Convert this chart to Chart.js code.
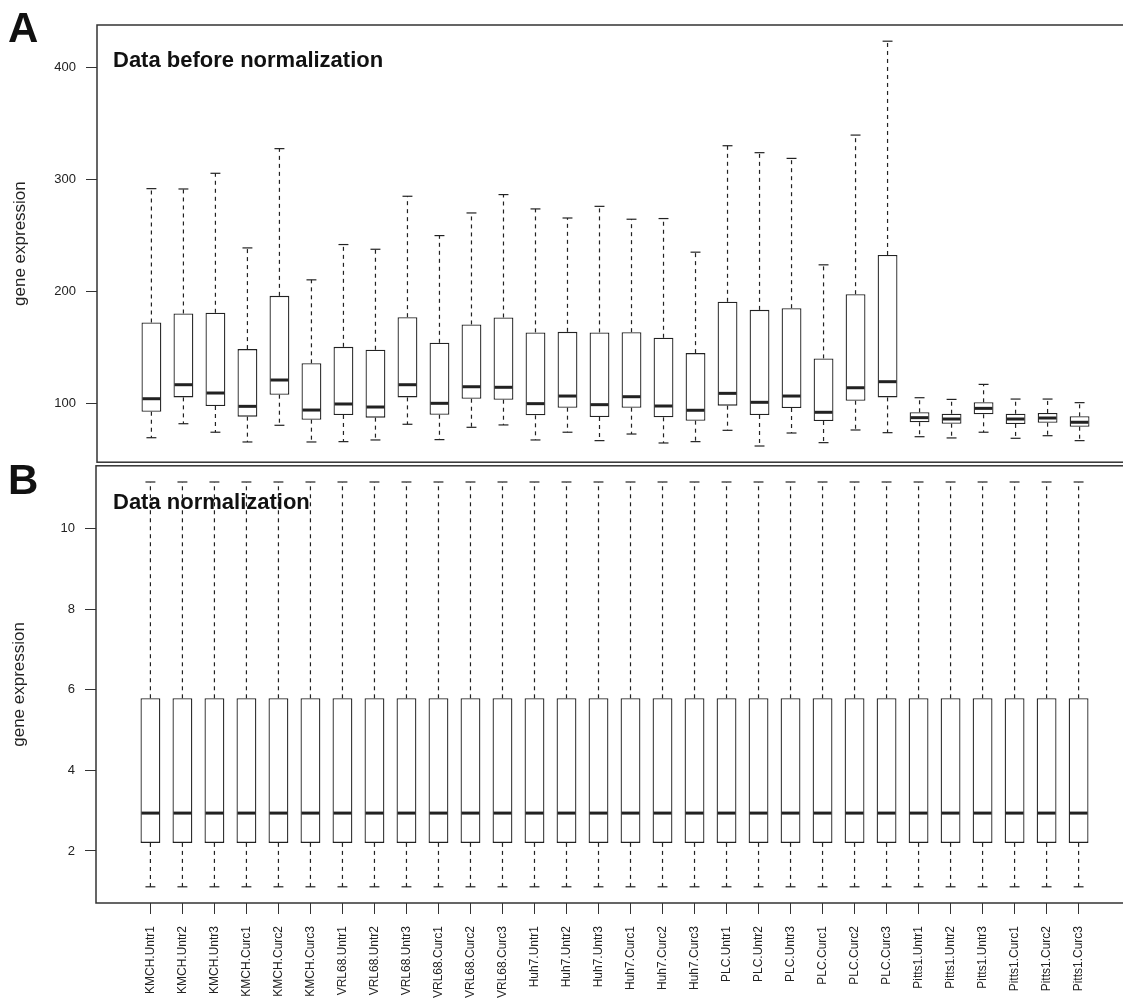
<!DOCTYPE html>
<html>
<head>
<meta charset="utf-8">
<script src="https://cdn.jsdelivr.net/npm/chart.js@4.4.1/dist/chart.umd.min.js"></script>
<style>
  html, body { margin: 0; padding: 0; background: #fff; overflow: hidden; }
  #wrap { position: relative; width: 1123px; height: 998px; overflow: hidden; }
  canvas { position: absolute; left: 0; }
  #chartA { top: 0; }
  #chartB { top: 448px; left: -1px; }
  .lbl { position: absolute; font-family: "Liberation Sans", Arial, sans-serif; font-weight: bold; color: #111; white-space: nowrap; }
  .panel { font-size: 42px; line-height: 1; }
  .ttl { font-size: 22px; line-height: 1; }
</style>
</head>
<body>
<div id="wrap">
  <canvas id="chartA" width="1140" height="480"></canvas>
  <canvas id="chartB" width="1140" height="557"></canvas>
  <div class="lbl panel" style="left:8px; top:7px;">A</div>
  <div class="lbl ttl" style="left:113px; top:49px;">Data before normalization</div>
  <div class="lbl panel" style="left:8px; top:459px;">B</div>
  <div class="lbl ttl" style="left:113px; top:491px;">Data normalization</div>
</div>
<script>
// sample names (x axis)
const samples = [
  "KMCH.Untr1", "KMCH.Untr2", "KMCH.Untr3", "KMCH.Curc1", "KMCH.Curc2", "KMCH.Curc3",
  "VRL68.Untr1", "VRL68.Untr2", "VRL68.Untr3", "VRL68.Curc1", "VRL68.Curc2", "VRL68.Curc3",
  "Huh7.Untr1", "Huh7.Untr2", "Huh7.Untr3", "Huh7.Curc1", "Huh7.Curc2", "Huh7.Curc3",
  "PLC.Untr1", "PLC.Untr2", "PLC.Untr3", "PLC.Curc1", "PLC.Curc2", "PLC.Curc3",
  "Pitts1.Untr1", "Pitts1.Untr2", "Pitts1.Untr3", "Pitts1.Curc1", "Pitts1.Curc2", "Pitts1.Curc3"
];

// A: data before normalization (whisker low, Q1, median, Q3, whisker high)
const lowA  = [69.3, 81.8, 74.2, 65.5, 80.4, 65.5, 65.8, 67.3, 81.3, 67.6, 78.6, 80.7, 67.3, 74.2, 66.7,
               72.6, 64.6, 65.8, 75.9, 61.9, 73.5, 64.9, 76.2, 73.8, 70.2, 69.1, 74.2, 68.8, 71.1, 66.7];
const q1A   = [92.5, 105.3, 97.6, 88.1, 107.7, 85.4, 89.6, 87.2, 105.3, 89.8, 104.1, 103.2, 89.3, 96.1, 87.8,
               96.1, 87.5, 84.5, 97.9, 89.6, 95.8, 84.2, 102.3, 105.3, 83.1, 81.8, 90.2, 81.6, 82.7, 79.1];
const medA  = [104.1, 116.6, 109.2, 97.3, 120.8, 94.0, 99.4, 96.7, 116.6, 100.0, 114.8, 114.3, 99.7, 106.5, 98.8,
               105.9, 97.6, 93.8, 108.9, 100.9, 106.5, 92.0, 113.9, 119.3, 87.2, 86.0, 95.5, 86.0, 86.9, 83.1];
const q3A   = [172.2, 180.2, 180.8, 148.4, 195.9, 135.7, 150.4, 147.8, 176.9, 154.0, 170.4, 176.6, 163.3, 163.8, 163.3,
               163.5, 158.5, 144.8, 190.6, 183.4, 184.9, 140.1, 197.4, 232.4, 92.0, 90.7, 100.9, 90.7, 91.4, 88.4];
const highA = [291.6, 291.3, 305.3, 238.7, 327.3, 210.2, 241.7, 237.5, 284.8, 249.7, 269.9, 286.3, 273.5, 265.4, 275.8,
               264.3, 264.9, 234.9, 329.9, 323.7, 318.6, 223.6, 339.4, 423.2, 105.0, 103.5, 116.9, 103.8, 103.8, 100.6];
const ticksA = [100, 200, 300, 400];

// B: data after normalization
const lowB  = [1.11, 1.11, 1.11, 1.11, 1.11, 1.11, 1.11, 1.11, 1.11, 1.11, 1.11, 1.11, 1.11, 1.11, 1.11,
               1.11, 1.11, 1.11, 1.11, 1.11, 1.11, 1.11, 1.11, 1.11, 1.11, 1.11, 1.11, 1.11, 1.11, 1.11];
const q1B   = [2.2, 2.2, 2.2, 2.2, 2.2, 2.2, 2.2, 2.2, 2.2, 2.2, 2.2, 2.2, 2.2, 2.2, 2.2,
               2.2, 2.2, 2.2, 2.2, 2.2, 2.2, 2.2, 2.2, 2.2, 2.2, 2.2, 2.2, 2.2, 2.2, 2.2];
const medB  = [2.94, 2.94, 2.94, 2.94, 2.94, 2.94, 2.94, 2.94, 2.94, 2.94, 2.94, 2.94, 2.94, 2.94, 2.94,
               2.94, 2.94, 2.94, 2.94, 2.94, 2.94, 2.94, 2.94, 2.94, 2.94, 2.94, 2.94, 2.94, 2.94, 2.94];
const q3B   = [5.79, 5.79, 5.79, 5.79, 5.79, 5.79, 5.79, 5.79, 5.79, 5.79, 5.79, 5.79, 5.79, 5.79, 5.79,
               5.79, 5.79, 5.79, 5.79, 5.79, 5.79, 5.79, 5.79, 5.79, 5.79, 5.79, 5.79, 5.79, 5.79, 5.79];
const highB = [11.16, 11.16, 11.16, 11.16, 11.16, 11.16, 11.16, 11.16, 11.16, 11.16, 11.16, 11.16, 11.16, 11.16, 11.16,
               11.16, 11.16, 11.16, 11.16, 11.16, 11.16, 11.16, 11.16, 11.16, 11.16, 11.16, 11.16, 11.16, 11.16, 11.16];
const ticksB = [2, 4, 6, 8, 10];

const FONT = "'Liberation Sans', Arial, Helvetica, sans-serif";
const INK = "#222";

// whiskers, staples and medians (R boxplot style)
const boxParts = {
  id: "boxParts",
  afterDatasetsDraw(chart) {
    const ctx = chart.ctx;
    const ys = chart.scales.y;
    const ds = chart.data.datasets[0];
    const bars = chart.getDatasetMeta(0).data;
    const line = (x1, y1, x2, y2) => { ctx.beginPath(); ctx.moveTo(x1, y1); ctx.lineTo(x2, y2); ctx.stroke(); };
    ctx.save();
    ctx.strokeStyle = INK;
    bars.forEach((bar, i) => {
      const x = bar.x, w = bar.width;
      const pLow = ys.getPixelForValue(ds.low[i]);
      const pHigh = ys.getPixelForValue(ds.high[i]);
      const pQ1 = ys.getPixelForValue(ds.data[i].y[0]);
      const pQ3 = ys.getPixelForValue(ds.data[i].y[1]);
      const pMed = ys.getPixelForValue(ds.med[i]);
      ctx.lineWidth = 1.2;
      ctx.setLineDash([4, 4]);
      line(x, pQ3, x, pHigh);
      line(x, pQ1, x, pLow);
      ctx.setLineDash([]);
      line(x - w / 4, pHigh, x + w / 4, pHigh);
      line(x - w / 4, pLow, x + w / 4, pLow);
      ctx.lineWidth = 3;
      line(x - w / 2 + 1, pMed, x + w / 2 - 1, pMed);
    });
    ctx.restore();
  }
};

// frame around the plot region
const frame = {
  id: "frame",
  afterDraw(chart) {
    const a = chart.chartArea, ctx = chart.ctx;
    ctx.save();
    ctx.strokeStyle = "#333";
    ctx.lineWidth = 1.5;
    ctx.strokeRect(a.left, a.top, a.right - a.left, a.bottom - a.top);
    ctx.restore();
  }
};

// R pads each axis by 4% of the data range
function padRange(lo, hi) {
  const d = (hi - lo) * 0.04;
  return [lo - d, hi + d];
}

function makeBox(id, low, q1, med, q3, high, yTicks, showX, pad) {
  const yr = padRange(Math.min(...low), Math.max(...high));
  const xr = padRange(0.5, samples.length + 0.5);
  return new Chart(document.getElementById(id), {
    type: "bar",
    data: {
      datasets: [{
        data: samples.map((s, i) => ({ x: i + 1, y: [q1[i], q3[i]] })),
        low: low, med: med, high: high,
        backgroundColor: "#fff",
        borderColor: INK,
        borderWidth: 1.3,
        borderSkipped: false,
        categoryPercentage: 1,
        barPercentage: 0.62
      }]
    },
    options: {
      responsive: false,
      devicePixelRatio: 1,
      animation: false,
      events: [],
      layout: { padding: pad },
      plugins: { legend: { display: false }, tooltip: { enabled: false } },
      scales: {
        x: {
          type: "linear",
          offset: false,
          min: xr[0], max: xr[1],
          display: showX,
          afterBuildTicks: s => { s.ticks = samples.map((n, i) => ({ value: i + 1 })); },
          afterFit: s => { s.height = showX ? 102 : 0; },
          ticks: {
            autoSkip: false, minRotation: 90, maxRotation: 90, padding: 12,
            color: INK, font: { family: FONT, size: 12 },
            callback: v => samples[v - 1]
          },
          grid: { offset: false, drawOnChartArea: false, drawTicks: true, tickLength: 11, color: "#333" },
          border: { display: false }
        },
        y: {
          min: yr[0], max: yr[1],
          afterBuildTicks: s => { s.ticks = yTicks.map(v => ({ value: v })); },
          afterFit: s => { s.width = 97; },
          ticks: { padding: 10, color: INK, font: { family: FONT, size: 13 } },
          grid: { drawOnChartArea: false, drawTicks: true, tickLength: 11, color: "#333" },
          border: { display: false },
          title: {
            display: true, text: "gene expression", color: INK,
            font: { family: FONT, size: 17 }, padding: { top: 10, bottom: 0 }
          }
        }
      }
    },
    plugins: [boxParts, frame]
  });
}

makeBox("chartA", lowA, q1A, medA, q3A, highA, ticksA, false, { top: 25, bottom: 2, right: 6, left: 0 });
makeBox("chartB", lowB, q1B, medB, q3B, highB, ticksB, true, { top: 0, bottom: 0, right: 6, left: 0 });
</script>
</body>
</html>
